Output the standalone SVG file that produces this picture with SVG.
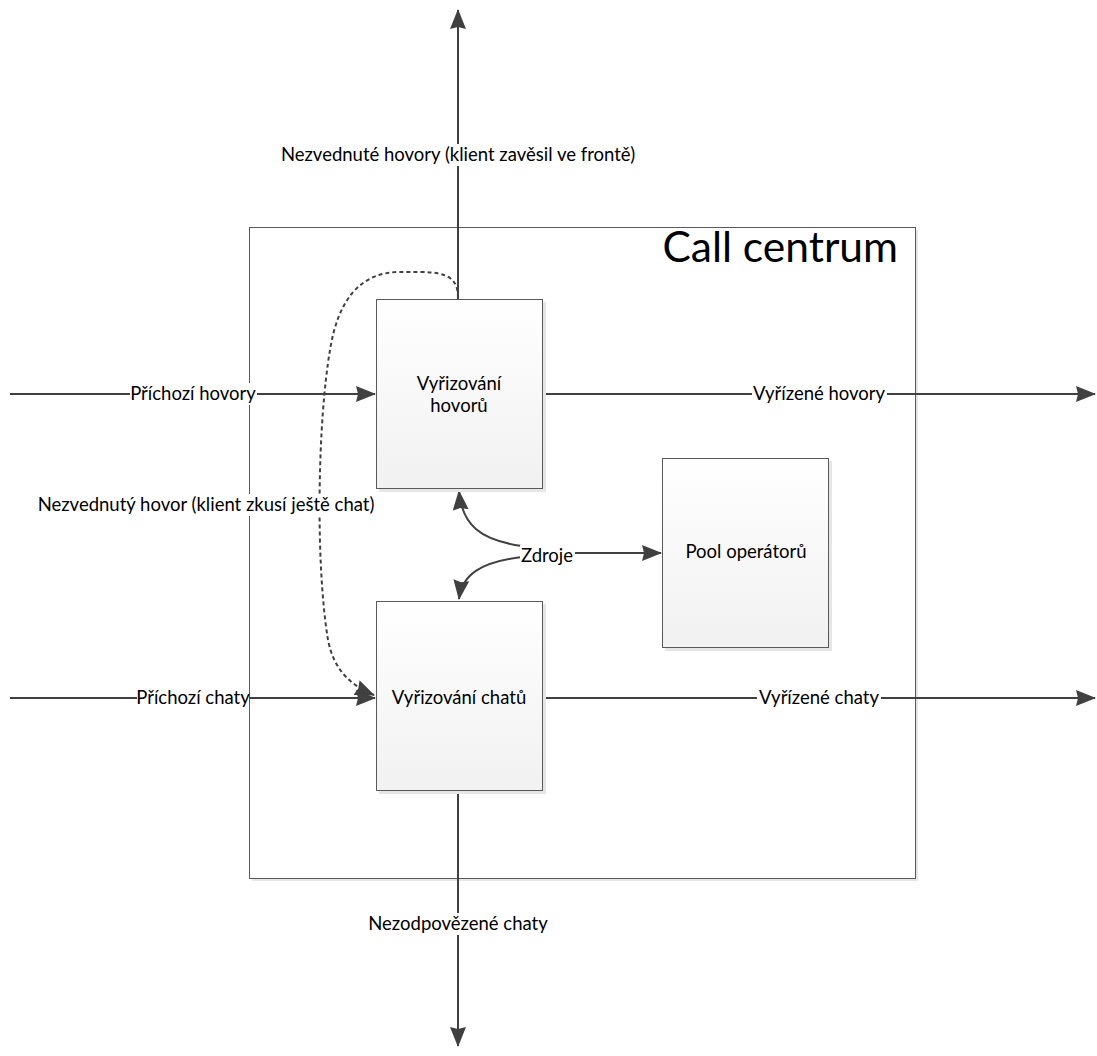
<svg xmlns="http://www.w3.org/2000/svg" width="1097" height="1056" viewBox="0 0 1097 1056">
<style>
text{font-family:Lato,"Liberation Sans",sans-serif;fill:#000;}
.lbl{font-size:18.5px;text-anchor:middle;}
.box{fill:url(#g);stroke:#595959;stroke-width:1;}
.sh{fill:#e6e6e6;}
.c{fill:none;stroke:#404040;stroke-width:2;}
.d{fill:none;stroke:#404040;stroke-width:2;stroke-dasharray:4 3;}
.bg{fill:#fff;}
</style>
<defs>
<linearGradient id="g" x1="0" y1="0" x2="0" y2="1"><stop offset="0" stop-color="#ffffff"/><stop offset="1" stop-color="#f1f1f1"/></linearGradient>
<marker id="b" viewBox="0 0 20 16" refX="19" refY="8" markerWidth="20" markerHeight="16" markerUnits="userSpaceOnUse" orient="auto">
<path d="M0,0 L20,8 L0,16 L2,8 z" fill="#404040"/>
</marker>
</defs>
<g id="call-centrum">
<rect x="252" y="230" width="666" height="651" class="sh"/>
<rect x="249.5" y="227.5" width="666" height="651" fill="#fff" stroke="#595959"/>
<text x="898" y="262" font-size="42.5" text-anchor="end">Call centrum</text>
</g>
<g id="connectors">
<path class="c" d="M10,394 H375" marker-end="url(#b)"/>
<path class="c" d="M543,394 H1095" marker-end="url(#b)"/>
<path class="c" d="M10,698 H375" marker-end="url(#b)"/>
<path class="c" d="M543,698 H1095" marker-end="url(#b)"/>
<path class="c" d="M458,299 V10" marker-end="url(#b)"/>
<path class="c" d="M458,791 V1046" marker-end="url(#b)"/>
<path class="d" d="M458,298 C458,280 450,272 420,272 L400,272 C360,272 338,300 330,350 C318,420 315,560 328,640 C334,670 350,685 374,695" marker-end="url(#b)"/>
<path class="c" d="M522,546 C480,540 462,525 459,491" marker-end="url(#b)"/>
<path class="c" d="M522,557 C480,562 462,575 459,599" marker-end="url(#b)"/>
<path class="c" d="M572,553 H661" marker-end="url(#b)" stroke-width="2.5"/>
</g>
<g id="labels">
<rect class="bg" x="130" y="383" width="127" height="22"/>
<text class="lbl" x="193" y="400">Příchozí hovory</text>
<rect class="bg" x="752" y="383" width="135" height="22"/>
<text class="lbl" x="819" y="400">Vyřízené hovory</text>
<rect class="bg" x="137" y="687" width="112" height="22"/>
<text class="lbl" x="193" y="704">Příchozí chaty</text>
<rect class="bg" x="757" y="687" width="124" height="22"/>
<text class="lbl" x="819" y="704">Vyřízené chaty</text>
<rect class="bg" x="276" y="144" width="364" height="22"/>
<text class="lbl" x="458" y="161">Nezvednuté hovory (klient zavěsil ve frontě)</text>
<rect class="bg" x="368" y="913" width="182" height="22"/>
<text class="lbl" x="458" y="930">Nezodpovězené chaty</text>
<rect class="bg" x="33" y="494" width="346" height="22"/>
<text class="lbl" x="206" y="511">Nezvednutý hovor (klient zkusí ještě chat)</text>
<rect class="bg" x="520" y="545" width="55" height="22"/>
<text class="lbl" x="547" y="562">Zdroje</text>
</g>
<g id="vyrizovani-hovoru">
<rect x="379" y="302" width="167" height="190" class="sh"/>
<rect x="376.5" y="299.5" width="166" height="189" class="box"/>
<text class="lbl" x="459" y="390">Vyřizování</text>
<text class="lbl" x="459" y="412">hovorů</text>
</g>
<g id="vyrizovani-chatu">
<rect x="379" y="604" width="167" height="190" class="sh"/>
<rect x="376.5" y="601.5" width="166" height="189" class="box"/>
<text class="lbl" x="459" y="704">Vyřizování chatů</text>
</g>
<g id="pool-operatoru">
<rect x="665" y="461" width="167" height="190" class="sh"/>
<rect x="662.5" y="458.5" width="166" height="189" class="box"/>
<text class="lbl" x="746" y="558">Pool operátorů</text>
</g>
</svg>
